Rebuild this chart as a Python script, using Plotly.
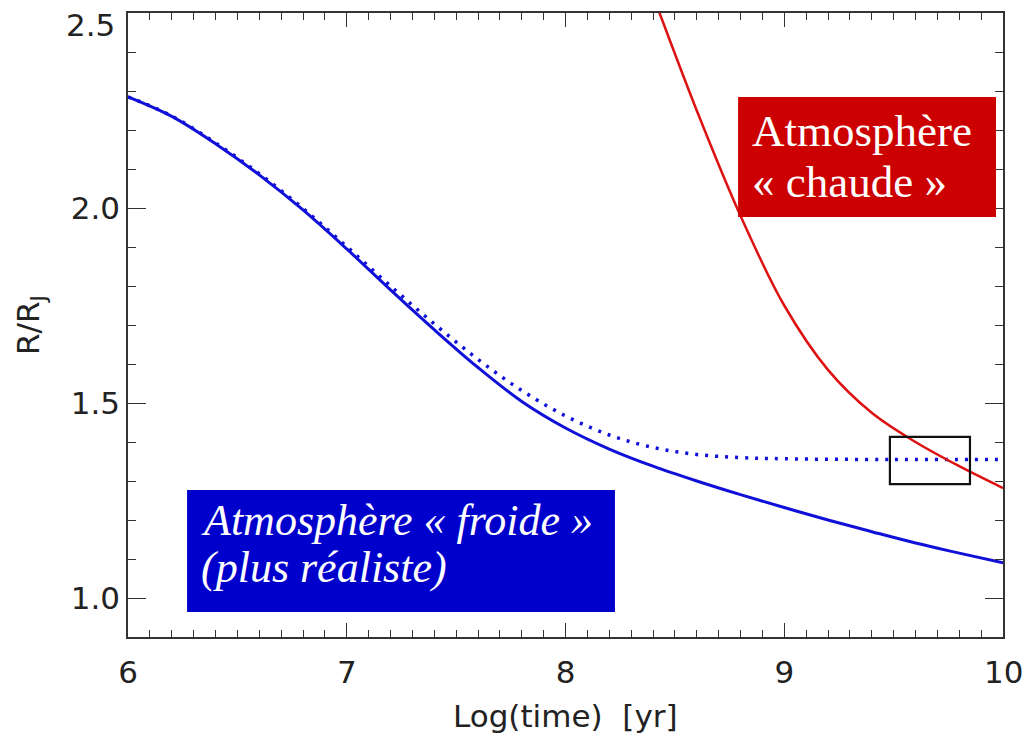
import plotly.graph_objects as go

# ---- data ----
cold_x = [6.0, 6.2, 6.4, 6.6, 6.8, 7.0, 7.2, 7.4, 7.6, 7.8, 8.0, 8.2, 8.4, 8.6, 8.8, 9.0, 9.2, 9.4, 9.6, 9.8, 10.0]
cold_y = [2.285, 2.235, 2.165, 2.085, 1.995, 1.895, 1.79, 1.688, 1.591, 1.504, 1.436, 1.382, 1.338, 1.30, 1.265, 1.232, 1.20, 1.17, 1.141, 1.115, 1.09]

cold_dot_x = [6.0, 6.2, 6.4, 6.6, 6.8, 7.0, 7.2, 7.4, 7.6, 7.8, 8.0, 8.2, 8.4, 8.6, 8.8, 9.0, 9.5, 10.0]
cold_dot_y = [2.285, 2.236, 2.167, 2.088, 1.999, 1.901, 1.80, 1.703, 1.612, 1.532, 1.467, 1.418, 1.386, 1.368, 1.36, 1.357, 1.355, 1.355]

hot_x = [8.41, 8.43, 8.6, 8.8, 9.0, 9.2, 9.4, 9.6, 9.8, 10.0]
hot_y = [2.53, 2.50, 2.25, 1.98, 1.75, 1.585, 1.475, 1.40, 1.338, 1.282]

x_ticks = [6, 7, 8, 9, 10]
x_tick_labels = ["6", "7", "8", "9", "10"]
y_ticks = [1.0, 1.5, 2.0, 2.5]
y_tick_labels = ["1.0", "1.5", "2.0", "2.5"]

hot_label = ["Atmosphère", "« chaude »"]
cold_label = ["Atmosphère « froide »", "(plus réaliste)"]

zoom_box = dict(x0=9.483, x1=9.849, y0=1.292, y1=1.413)

AX_FONT = dict(family="DejaVu Sans ExtraLight, DejaVu Sans", size=31, color="#222222")

fig = go.Figure()
fig.add_trace(go.Scatter(x=cold_dot_x, y=cold_dot_y, mode="lines", line_shape="spline",
                         line=dict(color="#1010D8", width=3.5, dash="3px,7px"), showlegend=False))
fig.add_trace(go.Scatter(x=cold_x, y=cold_y, mode="lines", line_shape="spline",
                         line=dict(color="#1010D8", width=3), showlegend=False))
fig.add_trace(go.Scatter(x=hot_x, y=hot_y, mode="lines", line_shape="spline",
                         line=dict(color="#DD1111", width=2.5), showlegend=False))

# coloured label boxes
fig.add_shape(type="rect", xref="x", yref="y", x0=8.789, x1=9.968, y0=1.977, y1=2.2846,
              fillcolor="#CC0000", line=dict(width=0), layer="above")
fig.add_shape(type="rect", xref="x", yref="y", x0=6.27, x1=8.226, y0=0.964, y1=1.277,
              fillcolor="#0000CC", line=dict(width=0), layer="above")
# zoom rectangle
fig.add_shape(type="rect", xref="x", yref="y", line=dict(color="#111111", width=2.2),
              fillcolor="rgba(0,0,0,0)", **zoom_box)

serif = "Liberation Serif, Times New Roman, serif"
for txt, yy in zip(hot_label, [2.1974, 2.0667]):
    fig.add_annotation(x=8.845, y=yy, xref="x", yref="y", text=txt, showarrow=False,
                       xanchor="left", yanchor="middle",
                       font=dict(family=serif, size=45, color="white"))
for txt, yy in zip(cold_label, [1.20, 1.0795]):
    fig.add_annotation(x=6.325, y=yy, xref="x", yref="y", text=f"<i>{txt}</i>", showarrow=False,
                       xanchor="left", yanchor="middle",
                       font=dict(family=serif, size=44, color="white"))

# edge tick labels kept inside the page like the reference
fig.add_annotation(x=-0.0126, y=0.9808, xref="paper", yref="paper", text=y_tick_labels[-1],
                   showarrow=False, xanchor="right", yanchor="middle", font=AX_FONT)
fig.add_annotation(x=x_ticks[-1], y=-0.0565, xref="x", yref="paper", text=x_tick_labels[-1],
                   showarrow=False, xanchor="center", yanchor="middle", font=AX_FONT,
                   borderpad=0)

# axis titles
fig.add_annotation(x=0.5, y=-0.1266, xref="paper", yref="paper", text="Log(time)  [yr]",
                   showarrow=False, xanchor="center", yanchor="middle", font=AX_FONT)
fig.add_annotation(x=-0.112, y=0.5, xref="paper", yref="paper", text="R/R<sub>J</sub>",
                   showarrow=False, xanchor="center", yanchor="middle", textangle=-90,
                   font=AX_FONT)

axis_common = dict(showline=True, linecolor="#333333", linewidth=1.5, mirror="allticks",
                   ticks="inside", tickcolor="#333333", tickwidth=1.3, showgrid=False,
                   zeroline=False, tickfont=AX_FONT)

fig.update_xaxes(range=[6, 10], tickvals=x_ticks, ticktext=x_tick_labels[:-1] + [""], ticklen=14,
                 ticklabelstandoff=7,
                 minor=dict(dtick=0.1, ticks="inside", ticklen=7, tickcolor="#333333", tickwidth=1.1, showgrid=False),
                 **axis_common)
fig.update_yaxes(range=[0.9, 2.5], tickvals=y_ticks[:-1], ticktext=y_tick_labels[:-1], ticklen=18,
                 minor=dict(dtick=0.1, ticks="inside", ticklen=8, tickcolor="#333333", tickwidth=1.1, showgrid=False),
                 **axis_common)

fig.update_layout(width=1026, height=733, margin=dict(l=128, r=23, t=13, b=96),
                  paper_bgcolor="white", plot_bgcolor="white")

fig.write_html("out.html", config={"displayModeBar": False, "responsive": False},
               post_script="document.body.style.margin='0';document.body.style.overflow='hidden';")
